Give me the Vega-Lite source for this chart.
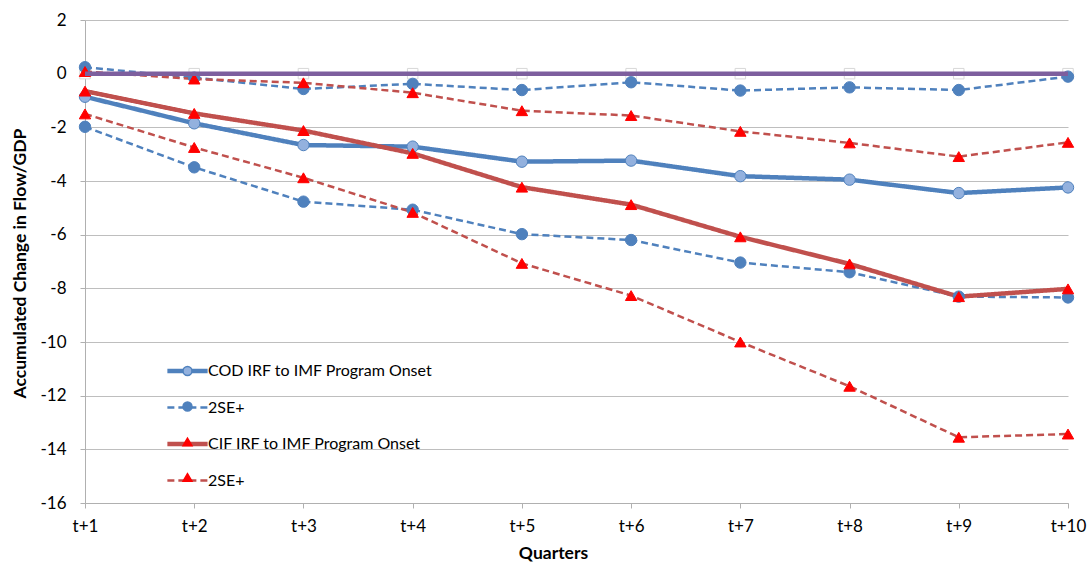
{
  "$schema": "https://vega.github.io/schema/vega-lite/v6.json",
  "width": 983,
  "height": 483,
  "autosize": {"type": "none"},
  "padding": {"left": 85, "top": 20, "right": 24, "bottom": 64},
  "background": "white",
  "config": {
    "font": "Lato",
    "view": {"stroke": null},
    "axis": {
      "labelFont": "Lato",
      "labelFontSize": 17,
      "labelColor": "#000000",
      "titleFont": "Lato",
      "titleFontSize": 17.5,
      "titleFontWeight": "bold",
      "titleColor": "#000000",
      "domainColor": "#B0B0B0",
      "tickColor": "#B0B0B0",
      "gridColor": "#BEBEBE",
      "tickSize": 5
    }
  },
  "data": {
    "values": [
      {"q": "t+1", "s": "Zero", "b": "z", "v": 0},
      {"q": "t+2", "s": "Zero", "b": "z", "v": 0},
      {"q": "t+3", "s": "Zero", "b": "z", "v": 0},
      {"q": "t+4", "s": "Zero", "b": "z", "v": 0},
      {"q": "t+5", "s": "Zero", "b": "z", "v": 0},
      {"q": "t+6", "s": "Zero", "b": "z", "v": 0},
      {"q": "t+7", "s": "Zero", "b": "z", "v": 0},
      {"q": "t+8", "s": "Zero", "b": "z", "v": 0},
      {"q": "t+9", "s": "Zero", "b": "z", "v": 0},
      {"q": "t+10", "s": "Zero", "b": "z", "v": 0},

      {"q": "t+1", "s": "COD IRF to IMF Program Onset", "b": "mid", "v": -0.86},
      {"q": "t+2", "s": "COD IRF to IMF Program Onset", "b": "mid", "v": -1.85},
      {"q": "t+3", "s": "COD IRF to IMF Program Onset", "b": "mid", "v": -2.66},
      {"q": "t+4", "s": "COD IRF to IMF Program Onset", "b": "mid", "v": -2.72},
      {"q": "t+5", "s": "COD IRF to IMF Program Onset", "b": "mid", "v": -3.28},
      {"q": "t+6", "s": "COD IRF to IMF Program Onset", "b": "mid", "v": -3.24},
      {"q": "t+7", "s": "COD IRF to IMF Program Onset", "b": "mid", "v": -3.82},
      {"q": "t+8", "s": "COD IRF to IMF Program Onset", "b": "mid", "v": -3.95},
      {"q": "t+9", "s": "COD IRF to IMF Program Onset", "b": "mid", "v": -4.45},
      {"q": "t+10", "s": "COD IRF to IMF Program Onset", "b": "mid", "v": -4.24},

      {"q": "t+1", "s": "2SE+", "b": "up", "v": 0.24},
      {"q": "t+2", "s": "2SE+", "b": "up", "v": -0.15},
      {"q": "t+3", "s": "2SE+", "b": "up", "v": -0.57},
      {"q": "t+4", "s": "2SE+", "b": "up", "v": -0.38},
      {"q": "t+5", "s": "2SE+", "b": "up", "v": -0.61},
      {"q": "t+6", "s": "2SE+", "b": "up", "v": -0.32},
      {"q": "t+7", "s": "2SE+", "b": "up", "v": -0.63},
      {"q": "t+8", "s": "2SE+", "b": "up", "v": -0.51},
      {"q": "t+9", "s": "2SE+", "b": "up", "v": -0.61},
      {"q": "t+10", "s": "2SE+", "b": "up", "v": -0.11},
      {"q": "t+1", "s": "2SE+", "b": "lo", "v": -1.98},
      {"q": "t+2", "s": "2SE+", "b": "lo", "v": -3.49},
      {"q": "t+3", "s": "2SE+", "b": "lo", "v": -4.77},
      {"q": "t+4", "s": "2SE+", "b": "lo", "v": -5.07},
      {"q": "t+5", "s": "2SE+", "b": "lo", "v": -5.98},
      {"q": "t+6", "s": "2SE+", "b": "lo", "v": -6.2},
      {"q": "t+7", "s": "2SE+", "b": "lo", "v": -7.04},
      {"q": "t+8", "s": "2SE+", "b": "lo", "v": -7.4},
      {"q": "t+9", "s": "2SE+", "b": "lo", "v": -8.31},
      {"q": "t+10", "s": "2SE+", "b": "lo", "v": -8.34},

      {"q": "t+1", "s": "CIF IRF to IMF Program Onset", "b": "mid", "v": -0.65},
      {"q": "t+2", "s": "CIF IRF to IMF Program Onset", "b": "mid", "v": -1.48},
      {"q": "t+3", "s": "CIF IRF to IMF Program Onset", "b": "mid", "v": -2.12},
      {"q": "t+4", "s": "CIF IRF to IMF Program Onset", "b": "mid", "v": -2.97},
      {"q": "t+5", "s": "CIF IRF to IMF Program Onset", "b": "mid", "v": -4.23},
      {"q": "t+6", "s": "CIF IRF to IMF Program Onset", "b": "mid", "v": -4.88},
      {"q": "t+7", "s": "CIF IRF to IMF Program Onset", "b": "mid", "v": -6.08},
      {"q": "t+8", "s": "CIF IRF to IMF Program Onset", "b": "mid", "v": -7.09},
      {"q": "t+9", "s": "CIF IRF to IMF Program Onset", "b": "mid", "v": -8.31},
      {"q": "t+10", "s": "CIF IRF to IMF Program Onset", "b": "mid", "v": -8.02},

      {"q": "t+1", "s": "2SE+ ", "b": "up", "v": 0.08},
      {"q": "t+2", "s": "2SE+ ", "b": "up", "v": -0.2},
      {"q": "t+3", "s": "2SE+ ", "b": "up", "v": -0.34},
      {"q": "t+4", "s": "2SE+ ", "b": "up", "v": -0.71},
      {"q": "t+5", "s": "2SE+ ", "b": "up", "v": -1.38},
      {"q": "t+6", "s": "2SE+ ", "b": "up", "v": -1.56},
      {"q": "t+7", "s": "2SE+ ", "b": "up", "v": -2.15},
      {"q": "t+8", "s": "2SE+ ", "b": "up", "v": -2.58},
      {"q": "t+9", "s": "2SE+ ", "b": "up", "v": -3.09},
      {"q": "t+10", "s": "2SE+ ", "b": "up", "v": -2.56},
      {"q": "t+1", "s": "2SE+ ", "b": "lo", "v": -1.5},
      {"q": "t+2", "s": "2SE+ ", "b": "lo", "v": -2.75},
      {"q": "t+3", "s": "2SE+ ", "b": "lo", "v": -3.88},
      {"q": "t+4", "s": "2SE+ ", "b": "lo", "v": -5.17},
      {"q": "t+5", "s": "2SE+ ", "b": "lo", "v": -7.07},
      {"q": "t+6", "s": "2SE+ ", "b": "lo", "v": -8.27},
      {"q": "t+7", "s": "2SE+ ", "b": "lo", "v": -10.0},
      {"q": "t+8", "s": "2SE+ ", "b": "lo", "v": -11.65},
      {"q": "t+9", "s": "2SE+ ", "b": "lo", "v": -13.55},
      {"q": "t+10", "s": "2SE+ ", "b": "lo", "v": -13.43}
    ]
  },
  "encoding": {
    "x": {
      "field": "q",
      "type": "ordinal",
      "scale": {
        "type": "point",
        "padding": 0,
        "domain": ["t+1", "t+2", "t+3", "t+4", "t+5", "t+6", "t+7", "t+8", "t+9", "t+10"]
      },
      "axis": {
        "title": "Quarters",
        "labelAngle": 0,
        "labelPadding": 10,
        "grid": false,
        "titleX": 468,
        "titleY": 50,
        "titleBaseline": "middle"
      }
    },
    "y": {
      "field": "v",
      "type": "quantitative",
      "scale": {"domain": [-16, 2], "nice": false, "zero": false},
      "axis": {
        "title": "Accumulated Change in Flow/GDP",
        "values": [-16, -14, -12, -10, -8, -6, -4, -2, 0, 2],
        "labelExpr": "toString(datum.value)",
        "grid": true,
        "labelPadding": 14,
        "titleAngle": -90,
        "titleX": -65,
        "titleY": 243,
        "titleBaseline": "middle",
        "titleAlign": "center"
      }
    }
  },
  "layer": [
    {
      "transform": [{"filter": "datum.s === 'Zero'"}],
      "mark": {"type": "point", "shape": "square", "filled": true, "fill": "#FFFFFF", "stroke": "#D8D8D8", "strokeWidth": 1, "size": 110, "opacity": 1}
    },
    {
      "transform": [{"filter": "datum.s !== 'Zero'"}],
      "mark": {"type": "line", "strokeCap": "butt"},
      "encoding": {
        "detail": {"field": "b"},
        "color": {
          "field": "s",
          "type": "nominal",
          "scale": {
            "domain": ["COD IRF to IMF Program Onset", "2SE+", "CIF IRF to IMF Program Onset", "2SE+ "],
            "range": ["#4F81BD", "#4F81BD", "#C0504D", "#C0504D"]
          },
          "legend": {
            "orient": "none",
            "legendX": 94.5,
            "legendY": 343,
            "title": null,
            "symbolType": "M-4.5,0H4.5",
            "symbolSize": 80,
            "labelFont": "Lato",
            "labelFontSize": 16,
            "labelColor": "#000000",
            "labelLimit": 400,
            "labelOffset": 12.5,
            "rowPadding": 19.5,
            "padding": 0
          }
        },
        "strokeDash": {
          "field": "s",
          "type": "nominal",
          "scale": {
            "domain": ["COD IRF to IMF Program Onset", "2SE+", "CIF IRF to IMF Program Onset", "2SE+ "],
            "range": [[1, 0], [7, 4], [1, 0], [7, 4]]
          }
        },
        "strokeWidth": {
          "field": "s",
          "type": "nominal",
          "scale": {
            "type": "ordinal",
            "domain": ["COD IRF to IMF Program Onset", "2SE+", "CIF IRF to IMF Program Onset", "2SE+ "],
            "range": [4.5, 2.5, 4.5, 2.5]
          }
        }
      }
    },
    {
      "transform": [{"filter": "datum.s !== 'Zero'"}],
      "mark": {"type": "point", "filled": true, "opacity": 1, "strokeWidth": 1, "size": 130},
      "encoding": {
        "shape": {
          "field": "s",
          "type": "nominal",
          "scale": {
            "domain": ["COD IRF to IMF Program Onset", "2SE+", "CIF IRF to IMF Program Onset", "2SE+ "],
            "range": ["circle", "circle", "triangle-up", "triangle-up"]
          },
          "legend": {
            "orient": "none",
            "legendX": 94.5,
            "legendY": 343,
            "title": null,
            "symbolSize": 80,
            "labelFont": "Lato",
            "labelFontSize": 16,
            "labelColor": "#000000",
            "labelOpacity": 0,
            "labelLimit": 400,
            "labelOffset": 12.5,
            "rowPadding": 19.5,
            "padding": 0,
            "symbolOpacity": 1
          }
        },
        "fill": {
          "field": "s",
          "type": "nominal",
          "scale": {
            "domain": ["COD IRF to IMF Program Onset", "2SE+", "CIF IRF to IMF Program Onset", "2SE+ "],
            "range": ["#93B1DE", "#4F81BD", "#FF0000", "#FF0000"]
          }
        },
        "stroke": {
          "field": "s",
          "type": "nominal",
          "scale": {
            "domain": ["COD IRF to IMF Program Onset", "2SE+", "CIF IRF to IMF Program Onset", "2SE+ "],
            "range": ["#4F81BD", "#4F81BD", "#FF0000", "#FF0000"]
          }
        }
      }
    },
    {
      "transform": [{"filter": "datum.s === 'Zero'"}],
      "mark": {"type": "line", "color": "#7D5F9E", "strokeWidth": 4.5}
    }
  ],
  "resolve": {
    "legend": {
      "color": "independent",
      "strokeDash": "independent",
      "strokeWidth": "independent",
      "shape": "independent",
      "fill": "independent",
      "stroke": "independent"
    }
  }
}
